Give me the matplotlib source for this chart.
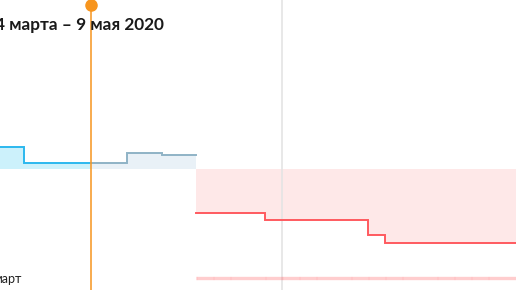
import numpy as np
import matplotlib
matplotlib.use("Agg")
import matplotlib.pyplot as plt

# days relative to the regime change (day 0)
step_days = [-12, -10, -4, -2, 0, 4, 10, 11, 19]
step_vals = [11, 3, 8, 7, -22, -25.5, -33, -37, -37]
split_past = -6.1    # orange marker day
split_regime = 0     # change of colour
today = 5            # gray guide
regime_days = np.arange(0, 19)

title = "4 марта – 9 мая 2020"
month_label = "март"

BLUE = "#2bb8ee"
BLUE_FILL = "#ccf1fb"
GREY_BLUE = "#8fb3c6"
GREY_FILL = "#e9f1f7"
RED = "#ff5a5f"
RED_FILL = "#fee8e8"
ORANGE = "#f7951e"

plt.rcParams['font.family'] = ['Lato', 'DejaVu Sans']

fig = plt.figure(figsize=(5.16, 2.90), dpi=100)
ax = fig.add_axes([0, 0, 1, 1])
ax.set_xlim(-11.4, 18.6)
ax.set_ylim(-60.5, 84.5)
ax.axis("off")

x = np.array(step_days, dtype=float)
y = np.array(step_vals, dtype=float)


def part(lo, hi):
    # pieces of the step curve between lo and hi
    xs, ys = [], []
    for i in range(len(x) - 1):
        a, b = max(x[i], lo), min(x[i + 1], hi)
        if b > a:
            xs += [a, b]
            ys += [y[i], y[i]]
    return np.array(xs), np.array(ys)


for lo, hi, c, fc in [(-20, split_past, BLUE, BLUE_FILL),
                      (split_past, split_regime, GREY_BLUE, GREY_FILL),
                      (split_regime, 30, RED, RED_FILL)]:
    xs, ys = part(lo, hi)
    ax.fill_between(xs, ys, 0, color=fc, lw=0, zorder=1)
    ax.plot(xs, ys, color=c, lw=1.4, zorder=3, solid_joinstyle="miter")

ax.axvline(today, color="#e4e4e4", lw=1.2, zorder=2)

ax.plot([split_past, split_past], [-70, 82.25], color=ORANGE, lw=1.1, zorder=4)
ax.plot([split_past], [82.25], "o", color=ORANGE, ms=8, zorder=5)

period_y = -54.5
ax.plot([regime_days[0], regime_days[-1] + 1], [period_y, period_y],
        color=RED, alpha=0.3, lw=2.4, solid_capstyle="butt", zorder=2)
for d in regime_days:
    ax.plot([d, d + 0.04], [period_y, period_y], color=RED, alpha=0.12,
            lw=2.4, solid_capstyle="butt", zorder=2)

fig.text(-5 / 516, 1 - 30 / 290, title, fontsize=12.4, fontweight="bold",
         color="#1a1a1a", ha="left", va="baseline")
fig.text(-7 / 516, 1 - 283 / 290, month_label, fontsize=9,
         color="#222222", ha="left", va="baseline")

fig.savefig("out.png", dpi=100)
